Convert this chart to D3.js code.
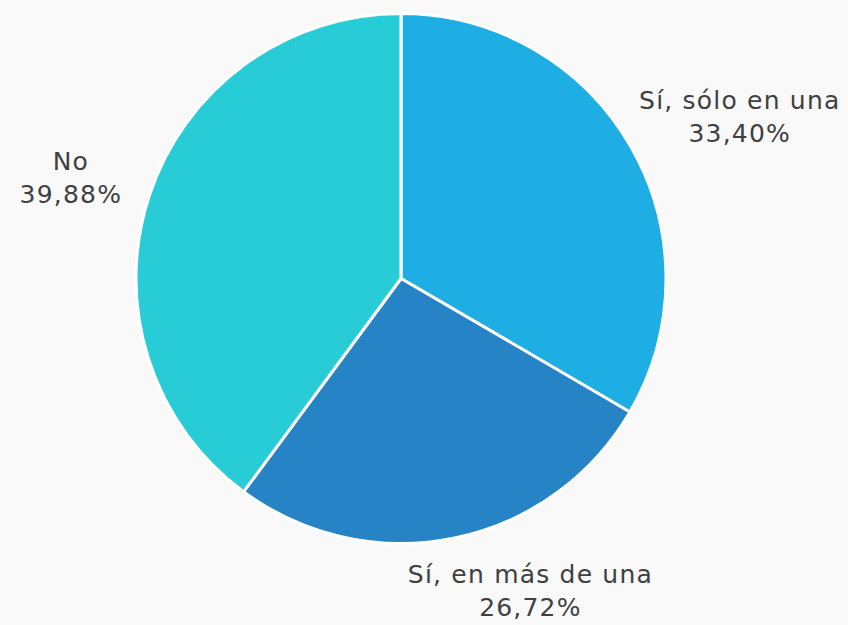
<!DOCTYPE html>
<html>
<head>
<meta charset="utf-8">
<script src="https://cdn.jsdelivr.net/npm/d3@7"></script>
<style>
  body { margin: 0; background: #f9f9f9; }
  svg { display: block; }
  .lbl { font-family: "DejaVu Sans", sans-serif; font-size: 25px; letter-spacing: 1.2px; fill: #404040; }
</style>
</head>
<body>
<div class="chart"></div>
<script>
// Data
const categories = ["Sí, sólo en una", "Sí, en más de una", "No"]
const values = [33.40, 26.72, 39.88]
const percentLabels = ["33,40%", "26,72%", "39,88%"]
const colors = ["#1faee4", "#2683c6", "#28ccd7"]

const width = 848
const height = 625
const cx = 401, cy = 278.5
const radius = 265

const svg = d3.select(".chart").append("svg")
    .attr("width", width)
    .attr("height", height)

const g = svg.append("g")
    .attr("transform", `translate(${cx},${cy})`)

const pie = d3.pie().sort(null).value(d => d)
const arcs = pie(values)

const arc = d3.arc().innerRadius(0).outerRadius(radius)

// Slices
g.selectAll("path")
    .data(arcs)
    .enter()
    .append("path")
        .attr("d", arc)
        .attr("fill", (d, i) => colors[i])
        .attr("stroke", "#ffffff")
        .attr("stroke-width", 3)
        .attr("stroke-linejoin", "round")

// Labels: box placed just outside the pie along the mid angle
const labelR = 290
const lineH = 33
// small manual nudges, like the original's best-fit placement
const nudge = [[0, -2], [46, -2], [-6, 0]]

const labels = g.selectAll("g.label")
    .data(arcs)
    .enter()
    .append("g")
    .attr("class", "label")

labels.each(function(d, i) {
    const sel = d3.select(this)
    const t = sel.append("text")
        .attr("class", "lbl")
        .attr("text-anchor", "middle")
    t.append("tspan").attr("x", 0).attr("y", -lineH / 2).attr("dy", "0.35em").text(categories[i])
    t.append("tspan").attr("x", 0).attr("y", lineH / 2).attr("dy", "0.35em").text(percentLabels[i])

    const bb = t.node().getBBox()
    const a = (d.startAngle + d.endAngle) / 2
    const ux = Math.sin(a), uy = -Math.cos(a)
    const px = ux * labelR, py = uy * labelR
    const x = px + ux * bb.width / 2 + nudge[i][0]
    const y = py + uy * bb.height / 2 + nudge[i][1]
    sel.attr("transform", `translate(${x},${y})`)
})
</script>
</body>
</html>
